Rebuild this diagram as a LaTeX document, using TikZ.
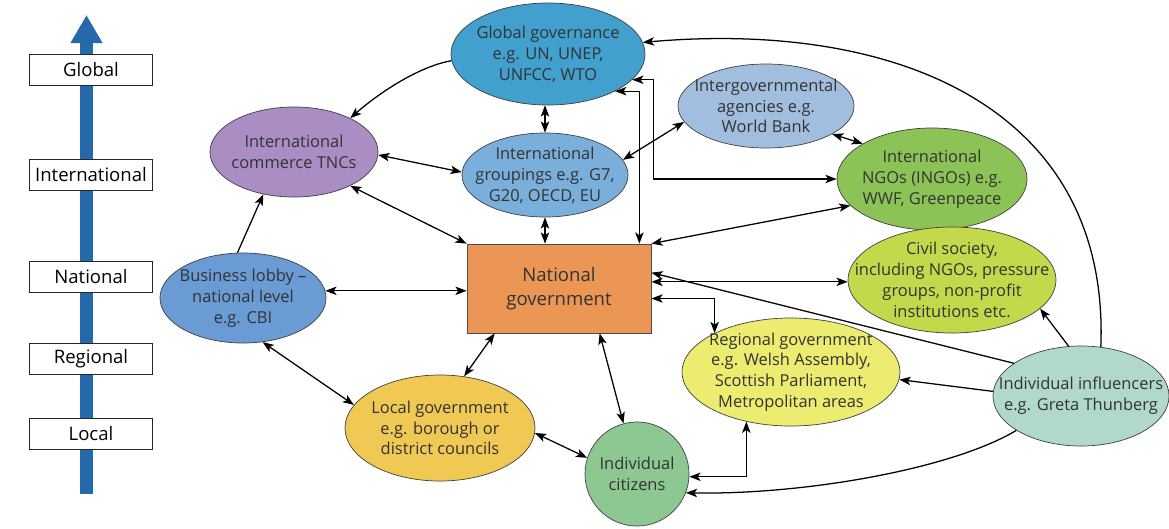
\documentclass[tikz,border=0pt]{standalone}
\usepackage{fontspec}
\setmainfont{Open Sans}
\usetikzlibrary{shapes.geometric,arrows.meta,calc}

\definecolor{axisblue}{HTML}{2569AB}
\definecolor{cglobal}{HTML}{42A0CF}
\definecolor{ctnc}{HTML}{A98DC3}
\definecolor{cgroups}{HTML}{7AAFDC}
\definecolor{cigo}{HTML}{A2BEDE}
\definecolor{cingo}{HTML}{8CC357}
\definecolor{ccivil}{HTML}{C4D84C}
\definecolor{clobby}{HTML}{6A9BD4}
\definecolor{cnat}{HTML}{EB9655}
\definecolor{clocal}{HTML}{F0C955}
\definecolor{ccitizen}{HTML}{8DC892}
\definecolor{cregion}{HTML}{ECEC70}
\definecolor{cinfl}{HTML}{B0D8CD}

\begin{document}
\begin{tikzpicture}[x=0.025cm, y=-0.025cm,
    >={Stealth[length=8pt,width=6pt,inset=2pt]},
    blob/.style={ellipse, draw=black!75, line width=0.5pt, inner xsep=-20pt, inner ysep=-4pt,
      align=center, text=black!80, font=\fontsize{11.7}{14.8}\selectfont},
    level/.style={draw=black!85, fill=white, line width=0.7pt, minimum width=3.05cm,
      minimum height=0.775cm, inner sep=0pt, font=\fontsize{13.2}{15}\selectfont},
    both/.style={<->, line width=0.9pt},
    one/.style={->, line width=0.9pt}]
\useasboundingbox (0,0) rectangle (1169,528);

% scale arrow on the left
\draw[axisblue, line width=0.325cm, -{Triangle[length=0.7cm,width=0.75cm]}] (86.5,494) -- (86.5,15);
\node[level] (global) at (91,70) {Global};
\node[level] (intl) at (91,175) {International};
\node[level] (national) at (91,277) {National};
\node[level] (regional) at (91,359) {Regional};
\node[level] (local) at (91,434) {Local};

% actors
\node[blob, fill=cglobal, minimum width=4.85cm, minimum height=2.55cm] (globgov) at (548,54) {Global governance\\e.g. UN, UNEP,\\UNFCC, WTO};
\node[blob, fill=ctnc, minimum width=4.2cm, minimum height=2.25cm] (tnc) at (294,152) {International\\commerce TNCs};
\node[blob, fill=cgroups, minimum width=4.15cm, minimum height=2.1cm] (groups) at (545,175) {International\\groupings e.g. G7,\\G20, OECD, EU};
\node[blob, fill=cigo, minimum width=4.4cm, minimum height=2.1cm] (igo) at (766,106) {Intergovernmental\\agencies e.g.\\World Bank};
\node[blob, fill=cingo, minimum width=4.75cm, minimum height=2.55cm] (ingo) at (932,179) {International\\NGOs (INGOs) e.g.\\WWF, Greenpeace};
\node[blob, fill=ccivil, minimum width=5.2cm, minimum height=2.65cm] (civil) at (952,280) {Civil society,\\including NGOs, pressure\\groups, non-profit\\institutions etc.};
\node[blob, fill=clobby, minimum width=4.15cm, minimum height=2.25cm] (lobby) at (243,298) {Business lobby --\\national level\\e.g. CBI};
\node[draw=black!70, fill=cnat, line width=0.5pt, minimum width=4.6cm, minimum height=2.225cm, align=center,
  text=black!80, font=\fontsize{13.2}{17}\selectfont] (natgov) at (559,288.5) {National\\government};
\node[blob, fill=clocal, minimum width=4.75cm, minimum height=2.65cm] (localgov) at (440,428) {Local government\\e.g. borough or\\district councils};
\node[blob, circle, fill=ccitizen, minimum size=2.6cm] (citizens) at (637,474) {Individual\\citizens};
\node[blob, fill=cregion, minimum width=5.45cm, minimum height=2.7cm] (reggov) at (791,372) {Regional government\\e.g. Welsh Assembly,\\Scottish Parliament,\\Metropolitan areas};
\node[blob, fill=cinfl, minimum width=4.4cm, minimum height=2.5cm] (influencer) at (1081,396) {Individual influencers\\e.g. Greta Thunberg};

% links
\draw[one] (globgov.184) .. controls (420,66) and (380,92) .. (tnc.31);
\draw[both] (tnc.-2) -- (groups.178);
\draw[both] (tnc.-31) -- (natgov.north west);
\draw[one] (lobby.97) -- (tnc.234);
\draw[both] (groups.north) -- (groups.north |- globgov.south);
\draw[both] (groups.south) -- (groups.south |- natgov.north);
\draw[both] (globgov.-29) -| ($(natgov.north east)+(-12,0)$);
\draw[both] (globgov.-17) -- ++(21,0) |- (ingo.180);
\draw[both] (groups.11) -- (igo.191);
\draw[both] (igo.-23) -- (ingo.153);
\draw[both] (natgov.north east) -- (ingo.198);
\draw[one] (influencer.68) .. controls (1110,110) and (900,20) .. (globgov.7);
\draw[both] (civil.181) -- (civil.181 -| natgov.east);
\draw[one] (influencer.154) -- ($(natgov.north east)+(0,29)$);
\draw[both] (reggov.153) |- ($(natgov.east)+(0,10)$);
\draw[both] ($(natgov.south west)+(28,0)$) -- (localgov.65);
\draw[both] ($(natgov.south west)+(133,0)$) -- (citizens.105);
\draw[both] (localgov.-3) -- (citizens.162);
\draw[both] (lobby.-66) -- (localgov.165);
\draw[both] (lobby.5) -- (lobby.5 -| natgov.west);
\draw[both] (citizens.-3) -| (reggov.228);
\draw[one] (influencer.208) .. controls (950,470) and (800,495) .. (citizens.-21);
\draw[one] (influencer.177) -- (reggov.-4);
\draw[one] (influencer.104) -- (civil.-18);
\end{tikzpicture}
\end{document}
